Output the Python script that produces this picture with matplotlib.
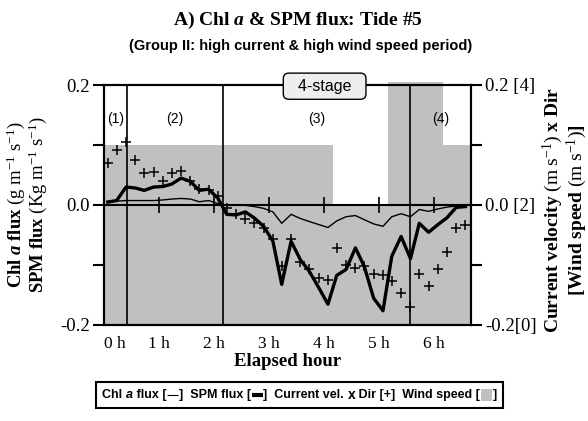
import matplotlib
matplotlib.use('Agg')
import matplotlib.pyplot as plt
from matplotlib.offsetbox import TextArea, DrawingArea, HPacker, AnchoredOffsetbox
from matplotlib.lines import Line2D
from matplotlib.patches import Rectangle

# elapsed time (h), 10-min sampling
elapsed_h = [0.07, 0.23, 0.40, 0.57, 0.73, 0.90, 1.07, 1.23, 1.40, 1.57,
             1.73, 1.90, 2.07, 2.23, 2.40, 2.57, 2.73, 2.90, 3.07, 3.23,
             3.40, 3.57, 3.73, 3.90, 4.07, 4.23, 4.40, 4.57, 4.73, 4.90,
             5.07, 5.23, 5.40, 5.57, 5.73, 5.90, 6.07, 6.23, 6.40, 6.57]

chl_flux = [0.0055, 0.006, 0.007, 0.007, 0.007, 0.007, 0.008, 0.0095, 0.0105, 0.0095,
            0.005, 0.007, 0.002, -0.001, -0.001, -0.001, -0.003, -0.006, -0.012, -0.031,
            -0.016, -0.023, -0.028, -0.033, -0.038, -0.027, -0.020, -0.018, -0.025, -0.032,
            -0.036, -0.020, -0.015, -0.020, -0.008, -0.011, -0.007, -0.004, -0.002, -0.002]

spm_flux = [0.0045, 0.007, 0.0295, 0.028, 0.024, 0.0295, 0.0305, 0.0345, 0.0445, 0.039,
            0.024, 0.026, 0.011, -0.016, -0.017, -0.012, -0.022, -0.036, -0.061, -0.133,
            -0.061, -0.092, -0.111, -0.138, -0.166, -0.118, -0.108, -0.072, -0.103, -0.156,
            -0.177, -0.086, -0.053, -0.090, -0.031, -0.046, -0.033, -0.022, -0.0045, -0.003]

current_dir = [0.069, 0.092, 0.104, 0.074, 0.053, 0.054, 0.040, 0.053, 0.057, 0.040,
               0.026, 0.025, 0.014, -0.006, -0.016, -0.024, -0.031, -0.039, -0.057, -0.103,
               -0.057, -0.096, -0.108, -0.123, -0.126, -0.072, -0.101, -0.106, -0.103, -0.116,
               -0.118, -0.127, -0.148, -0.171, -0.116, -0.135, -0.108, -0.079, -0.039, -0.0345]

# wind speed steps (m/s)
wind_start = [0.0, 4.17, 5.17, 6.17]
wind_end = [4.17, 5.17, 6.17, 6.67]
wind_speed = [3.0, 2.0, 4.05, 3.0]

# stage boundaries (h)
stage_edges = [0.0, 0.42, 2.16, 5.56, 6.67]
stage_names = ['(1)', '(2)', '(3)', '(4)']

hour_ticks = [0, 1, 2, 3, 4, 5, 6]
flux_ticks = [-0.2, 0.0, 0.2]
flux_labels = ['-0.2', '0.0', '0.2']
wind_ticks = [0, 2, 4]
wind_labels = ['-0.2[0]', '0.0 [2]', '0.2 [4]']

SERIF = ['Liberation Serif', 'DejaVu Serif']
SANS = ['Liberation Sans Narrow', 'Liberation Sans', 'DejaVu Sans']

plt.rcParams['font.family'] = SERIF
plt.rcParams['mathtext.fontset'] = 'custom'
plt.rcParams['mathtext.rm'] = 'Liberation Serif'
plt.rcParams['mathtext.bf'] = 'Liberation Serif:bold'
plt.rcParams['mathtext.it'] = 'Liberation Serif:italic'
plt.rcParams['mathtext.bfit'] = 'Liberation Serif:italic:bold'

W, H = 588, 421
fig = plt.figure(figsize=(W / 100, H / 100), dpi=100)
ax = fig.add_axes([104 / W, 1 - 324.5 / H, (471 - 104) / W, (324.5 - 85) / H])
ax2 = ax.twinx()
ax.set_zorder(ax2.get_zorder() + 1)
ax.patch.set_visible(False)

# wind speed bars (right axis)
widths = [e - s for s, e in zip(wind_start, wind_end)]
ax2.bar(wind_start, wind_speed, width=widths, align='edge', color='#c0c0c0',
        linewidth=0, clip_on=False)
ax2.set_ylim(0, 4)
ax2.set_yticks(wind_ticks)
ax2.set_yticklabels(wind_labels)
ax2.set_yticks([1, 3], minor=True)
ax2.tick_params(axis='y', which='both', direction='out', length=8, width=1.5,
                labelsize=13.5, pad=2)

# fluxes and current
ax.plot(elapsed_h, chl_flux, color='black', lw=1.0)
ax.plot(elapsed_h, spm_flux, color='black', lw=2.4)
ax.plot(elapsed_h, current_dir, ls='none', marker='+', ms=7, mew=1.1, color='black')

for xb in stage_edges[1:-1]:
    ax.axvline(xb, color='black', lw=1.2)
ax.axhline(0, color='black', lw=1.5)

for i, name in enumerate(stage_names):
    mid = (stage_edges[i] + stage_edges[i + 1]) / 2
    ax.text(mid, 0.143, name, ha='center', va='center', fontsize=10, family=SANS)

ax.text(4.01, 0.198, '  4-stage  ', ha='center', va='center', fontsize=11.5,
        family=SANS, clip_on=False,
        bbox=dict(boxstyle='round,pad=0.35,rounding_size=0.35', fc='#eeeeee',
                  ec='black', lw=1))

ax.set_xlim(0, 6.67)
ax.set_ylim(-0.2, 0.2)
ax.set_xticks(hour_ticks)
ax.set_xticklabels([f'{h} h' for h in hour_ticks])
ax.get_xticklabels()[0].set_horizontalalignment('left')
ax.tick_params(axis='x', length=0, labelsize=12.5, pad=8)
ax.set_yticks(flux_ticks)
ax.set_yticklabels(flux_labels)
ax.set_yticks([-0.1, 0.1], minor=True)
ax.tick_params(axis='y', which='both', direction='out', length=8, width=1.5,
               labelsize=13.5, pad=2)

# tick marks along the zero line
sec = ax.secondary_xaxis(0.5)
sec.set_xticks(hour_ticks[1:])
sec.tick_params(direction='inout', length=11, width=1.2, labelbottom=False, labeltop=False)
sec.spines['bottom'].set_linewidth(0)
sec.spines['top'].set_linewidth(0)

for a in (ax, ax2):
    for s in a.spines.values():
        s.set_linewidth(1.5)

fig.text(0.507, 1 - 20 / H, r'A) Chl $\mathbfit{a}$ & SPM flux: Tide #5',
         ha='center', va='center', fontsize=14, weight='bold')
fig.text(0.512, 1 - 46 / H, '(Group II: high current & high wind speed period)',
         ha='center', va='center', fontsize=10.5, weight='bold', family=SANS)
fig.text(287.5 / W, 1 - 362 / H, 'Elapsed hour', ha='center', va='center',
         fontsize=13.5, weight='bold')

fig.text(27 / W, 1 - 205 / H,
         r'$\mathbf{Chl}\ \mathbfit{a}\ \mathbf{flux}\ \mathrm{(g\ m^{-1}\ s^{-1})}$' '\n'
         r'$\mathbf{SPM\ flux}\ \mathrm{(Kg\ m^{-1}\ s^{-1})}$',
         rotation=90, ha='center', va='center', multialignment='center',
         fontsize=13.5, linespacing=0.95)
fig.text(565 / W, 1 - 210 / H,
         r'$\mathbf{Current\ velocity}\ \mathrm{(m\ s^{-1})}\ \mathbf{x\ Dir}$' '\n'
         r'$\mathbf{[Wind\ speed}\ \mathrm{(m\ s^{-1})}\mathbf{]}$',
         rotation=90, ha='center', va='center', multialignment='center',
         fontsize=14, linespacing=1.0)

# legend strip
tp = dict(family=SANS, weight='bold', size=9)
tpi = dict(family=SANS, weight='bold', style='italic', size=9)


def line_box(lw):
    da = DrawingArea(9, 8, 0, 0)
    da.add_artist(Line2D([0.5, 8.5], [4, 4], color='black', lw=lw,
                         solid_capstyle='butt'))
    return da


sq = DrawingArea(9, 9, 0, 0)
sq.add_artist(Rectangle((0.5, 0), 8, 9, fc='#c0c0c0', ec='none'))

parts = [TextArea('Chl ', textprops=tp), TextArea('a', textprops=tpi),
         TextArea(' flux [', textprops=tp), line_box(0.8),
         TextArea(']  SPM flux [', textprops=tp), line_box(3.0),
         TextArea(']  Current vel. ', textprops=tp),
         TextArea('x', textprops=dict(family=['Liberation Sans'], weight='bold', size=10)),
         TextArea(' Dir [+]  Wind speed [', textprops=tp), sq,
         TextArea(']', textprops=tp)]
pack = HPacker(children=parts, align='center', pad=0, sep=0)
leg = AnchoredOffsetbox(loc='center', child=pack, pad=0.45, borderpad=0, frameon=True,
                        bbox_to_anchor=(299.5 / W, 1 - 395 / H),
                        bbox_transform=fig.transFigure)
leg.patch.set_boxstyle('square', pad=0)
leg.patch.set_linewidth(1.5)
fig.add_artist(leg)

fig.savefig('out.png', dpi=100)
